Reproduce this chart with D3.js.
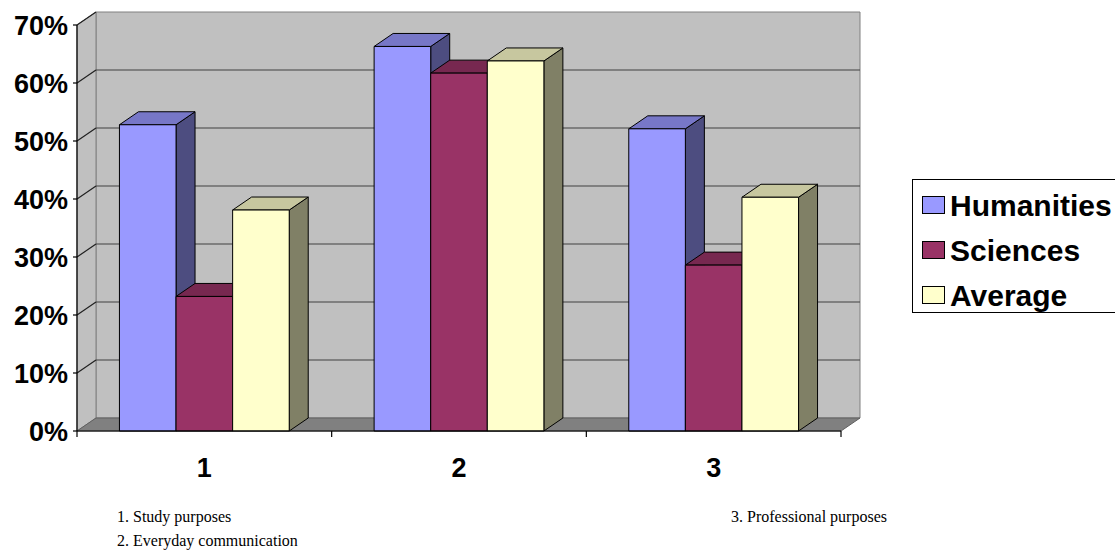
<!DOCTYPE html>
<html>
<head>
<meta charset="utf-8">
<script src="https://cdn.jsdelivr.net/npm/d3@7"></script>
<style>
  html, body { margin: 0; padding: 0; background: #fff; }
  svg { display: block; }
</style>
</head>
<body>
<svg id="chart" width="1115" height="550"></svg>
<script>
// Categories and series values (share of respondents)
const categories = ["1", "2", "3"];
const seriesNames = ["Humanities", "Sciences", "Average"];
const humanities = [0.528, 0.663, 0.521];
const sciences = [0.232, 0.617, 0.286];
const average = [0.381, 0.638, 0.403];
const yTicks = [0, 0.1, 0.2, 0.3, 0.4, 0.5, 0.6, 0.7];
const notesLeft = ["1. Study purposes", "2. Everyday communication"];
const notesRight = ["3. Professional purposes"];

(function () {
  const seriesValues = [humanities, sciences, average];
  const fills = ["#9999FF", "#993366", "#FFFFCC"];

  function shade(c, k) {
    const r = d3.rgb(c);
    return d3.rgb(r.r * k, r.g * k, r.b * k).formatHex();
  }

  const svg = d3.select("#chart");
  const font = "Arial, 'Liberation Sans', sans-serif";

  // Plot frame (front plane) and oblique depth offset
  const plotLeft = 77, plotRight = 841, plotBottom = 431, plotTop = 25;
  const dx = 19, dy = -13;

  const y = d3.scaleLinear().domain([0, 0.7]).range([plotBottom, plotTop]);
  const x = d3.scaleBand().domain(categories).range([plotLeft, plotRight]).padding(0);
  const xs = d3.scaleBand().domain(seriesNames).range([0, x.bandwidth()])
    .paddingInner(0).paddingOuter(0.75);

  const pts = a => a.map(p => p.join(",")).join(" ");

  // Walls
  const walls = svg.append("g");
  walls.append("polygon") // back wall
    .attr("points", pts([[plotLeft + dx, y(0.7) + dy], [plotRight + dx, y(0.7) + dy], [plotRight + dx, plotBottom + dy], [plotLeft + dx, plotBottom + dy]]))
    .attr("fill", "#C0C0C0").attr("stroke", "#808080").attr("stroke-width", 1);
  walls.append("polygon") // side wall
    .attr("points", pts([[plotLeft, y(0.7)], [plotLeft + dx, y(0.7) + dy], [plotLeft + dx, plotBottom + dy], [plotLeft, plotBottom]]))
    .attr("fill", "#C0C0C0").attr("stroke", "#808080").attr("stroke-width", 1);

  // Gridlines on back and side walls
  const grid = svg.append("g");
  yTicks.filter(v => v > 0 && v < 0.7).forEach(v => {
    grid.append("line")
      .attr("x1", plotLeft + dx).attr("x2", plotRight + dx)
      .attr("y1", y(v) + dy).attr("y2", y(v) + dy)
      .attr("stroke", "#404040").attr("stroke-width", 1.2);
  });
  yTicks.filter(v => v > 0).forEach(v => {
    grid.append("line")
      .attr("x1", plotLeft).attr("x2", plotLeft + dx)
      .attr("y1", y(v)).attr("y2", y(v) + dy)
      .attr("stroke", "#202020").attr("stroke-width", 1.2);
  });

  // Floor
  svg.append("polygon")
    .attr("points", pts([[plotLeft, plotBottom], [plotLeft + dx, plotBottom + dy], [plotRight + dx, plotBottom + dy], [plotRight, plotBottom]]))
    .attr("fill", "#808080").attr("stroke", "#606060").attr("stroke-width", 1);

  // 3-D columns: side, top and front faces
  const bars = svg.append("g").attr("stroke", "#000").attr("stroke-width", 1).attr("stroke-linejoin", "round");
  categories.forEach((cat, ci) => {
    seriesNames.forEach((name, si) => {
      const v = seriesValues[si][ci];
      const x0 = x(cat) + xs(name), x1 = x0 + xs.bandwidth();
      const yt = y(v), yb = y(0);
      const g = bars.append("g");
      g.append("polygon")
        .attr("points", pts([[x1, yb], [x1 + dx, yb + dy], [x1 + dx, yt + dy], [x1, yt]]))
        .attr("fill", shade(fills[si], 0.5));
      g.append("polygon")
        .attr("points", pts([[x0, yt], [x0 + dx, yt + dy], [x1 + dx, yt + dy], [x1, yt]]))
        .attr("fill", shade(fills[si], 0.78));
      g.append("rect")
        .attr("x", x0).attr("y", yt).attr("width", x1 - x0).attr("height", yb - yt)
        .attr("fill", fills[si]);
    });
  });

  // Value axis
  const yAxis = svg.append("g");
  yAxis.append("line").attr("x1", plotLeft).attr("x2", plotLeft).attr("y1", y(0.7)).attr("y2", plotBottom)
    .attr("stroke", "#000").attr("stroke-width", 1.2);
  yTicks.forEach(v => {
    yAxis.append("line").attr("x1", plotLeft - 4).attr("x2", plotLeft).attr("y1", y(v)).attr("y2", y(v))
      .attr("stroke", "#000").attr("stroke-width", 1.2);
    yAxis.append("text")
      .attr("x", plotLeft - 9).attr("y", y(v)).attr("dy", "0.36em")
      .attr("text-anchor", "end")
      .attr("font-family", font).attr("font-weight", "bold").attr("font-size", 27)
      .text(d3.format(".0%")(v));
  });

  // Category axis
  const xAxis = svg.append("g");
  xAxis.append("line").attr("x1", plotLeft).attr("x2", plotRight).attr("y1", plotBottom).attr("y2", plotBottom)
    .attr("stroke", "#000").attr("stroke-width", 1.2);
  d3.range(categories.length + 1).forEach(i => {
    const xx = plotLeft + i * x.step();
    xAxis.append("line").attr("x1", xx).attr("x2", xx).attr("y1", plotBottom).attr("y2", plotBottom + 6)
      .attr("stroke", "#000").attr("stroke-width", 1.2);
  });
  categories.forEach(cat => {
    xAxis.append("text")
      .attr("x", x(cat) + x.bandwidth() / 2).attr("y", 477)
      .attr("text-anchor", "middle")
      .attr("font-family", font).attr("font-weight", "bold").attr("font-size", 27)
      .text(cat);
  });

  // Legend
  const legend = svg.append("g");
  legend.append("rect").attr("x", 912.5).attr("y", 179.5).attr("width", 220).attr("height", 133)
    .attr("fill", "#fff").attr("stroke", "#000").attr("stroke-width", 1);
  seriesNames.forEach((name, i) => {
    const cy = 205 + i * 45;
    legend.append("rect").attr("x", 922.5).attr("y", cy - 8.5).attr("width", 22).attr("height", 17)
      .attr("fill", fills[i]).attr("stroke", "#000").attr("stroke-width", 1);
    legend.append("text").attr("x", 950).attr("y", cy).attr("dy", "0.36em")
      .attr("font-family", font).attr("font-weight", "bold").attr("font-size", 30)
      .text(name);
  });

  // Category notes under the chart
  const serif = "'Times New Roman', 'Liberation Serif', serif";
  notesLeft.forEach((t, i) => {
    svg.append("text").attr("x", 117).attr("y", 522 + i * 24)
      .attr("font-family", serif).attr("font-size", 16).text(t);
  });
  notesRight.forEach((t, i) => {
    svg.append("text").attr("x", 731).attr("y", 522 + i * 24)
      .attr("font-family", serif).attr("font-size", 16).text(t);
  });
})();
</script>
</body>
</html>
